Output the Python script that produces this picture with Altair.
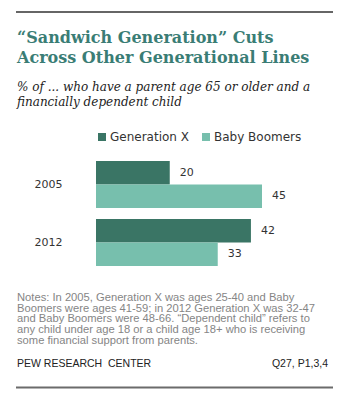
import altair as alt
import pandas as pd

# ---- data ----
years = ["2005", "2005", "2012", "2012"]
series = ["Generation X", "Baby Boomers", "Generation X", "Baby Boomers"]
values = [20, 45, 42, 33]
series_order = ["Generation X", "Baby Boomers"]
series_colors = ["#3a7565", "#77bfad"]

title_lines = ["\u201cSandwich Generation\u201d Cuts", "Across Other Generational Lines"]
subtitle_lines = ["% of ... who have a parent age 65 or older and a", "financially dependent child"]
note_lines = [
    "Notes: In 2005, Generation X was ages 25-40 and Baby",
    "Boomers were ages 41-59; in 2012 Generation X was 32-47",
    "and Baby Boomers were 48-66. \u201cDependent child\u201d refers to",
    "any child under age 18 or a child age 18+ who is receiving",
    "some financial support from parents.",
]
source_left = "PEW RESEARCH\u00a0 CENTER"
source_right = "Q27, P1,3,4"

df = pd.DataFrame({"year": years, "series": series, "value": values})
one = pd.DataFrame({"a": [0]})

FONT = "DejaVu Sans"

xs = alt.Scale(domain=[0, 45], range=[88, 254], nice=False, zero=True)
ys = alt.Scale(range=[147.5, 263.5], paddingInner=0.19, paddingOuter=0.095)
yoff = alt.YOffset("series:N", sort=series_order, scale=alt.Scale(paddingInner=0, paddingOuter=0))

base = alt.Chart(df)

bars = base.mark_bar().encode(
    x=alt.X("value:Q", scale=xs, axis=None),
    y=alt.Y("year:N", scale=ys, title=None,
            axis=alt.Axis(domain=False, ticks=False, labelPadding=0, offset=-54,
                          labelFont=FONT, labelFontSize=11, labelColor="#333333")),
    yOffset=yoff,
    color=alt.Color("series:N", title=None,
                    scale=alt.Scale(domain=series_order, range=series_colors),
                    legend=alt.Legend(orient="none", legendX=88, legendY=123, direction="horizontal",
                                      symbolType="square", symbolSize=64, symbolStrokeWidth=0,
                                      labelFont=FONT, labelFontSize=12, labelColor="#333333",
                                      labelOffset=2, columnPadding=11, labelLimit=200)),
)

labels = base.mark_text(align="left", baseline="middle", dx=10, font=FONT, fontSize=11,
                        color="#333333").encode(
    x=alt.X("value:Q", scale=xs),
    y=alt.Y("year:N", scale=ys),
    yOffset=yoff,
    text="value:Q",
)

title = alt.Chart(one).mark_text(text=title_lines, align="left", baseline="alphabetic",
                                 font="DejaVu Serif", fontWeight="bold", fontSize=16,
                                 lineHeight=19.5, color="#3a7d75").encode(
    x=alt.value(9), y=alt.value(35.3))

subtitle = alt.Chart(one).mark_text(text=subtitle_lines, align="left", baseline="alphabetic",
                                    font="DejaVu Serif", fontStyle="italic", fontSize=12,
                                    lineHeight=15.5, color="#222222").encode(
    x=alt.value(9), y=alt.value(82.7))

notes = alt.Chart(one).mark_text(text=note_lines, align="left", baseline="alphabetic",
                                 font="Liberation Sans", fontSize=11.2,
                                 lineHeight=10.9, color="#858585").encode(
    x=alt.value(9), y=alt.value(292.7))

src_l = alt.Chart(one).mark_text(text=source_left, align="left", baseline="alphabetic",
                                 font="Liberation Sans", fontSize=10.5, color="#222222").encode(
    x=alt.value(9), y=alt.value(359))

src_r = alt.Chart(one).mark_text(text=source_right, align="right", baseline="alphabetic",
                                 font="Liberation Sans", fontSize=10.5, color="#222222").encode(
    x=alt.value(320), y=alt.value(359))

top_rule = alt.Chart(one).mark_rule(color="#333333", strokeWidth=1.5).encode(
    x=alt.value(8), x2=alt.value(325), y=alt.value(4))

bottom_rule = alt.Chart(one).mark_rule(color="#6b6b6b", strokeWidth=2).encode(
    x=alt.value(8), x2=alt.value(325), y=alt.value(379.5))

chart = alt.layer(top_rule, title, subtitle, bars, labels, notes, src_l, src_r, bottom_rule).properties(
    width=341, height=382, padding=0,
    autosize=alt.AutoSizeParams(type="none"),
).configure_view(stroke="transparent")

chart.save("out.html", embed_options={"renderer": "svg", "actions": False})
